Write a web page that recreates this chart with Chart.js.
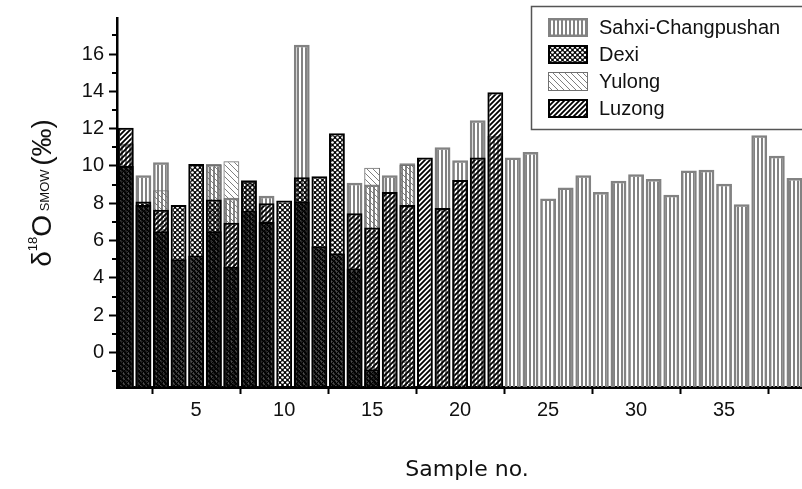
<!DOCTYPE html>
<html>
<head>
<meta charset="utf-8">
<script src="https://cdn.jsdelivr.net/npm/chart.js@4.4.1/dist/chart.umd.min.js"></script>
<style>
  html, body { margin: 0; padding: 0; background: #fff; }
  #wrap { width: 802px; height: 489px; }
</style>
</head>
<body>
<div id="wrap"><canvas id="chart"></canvas></div>
<script>
  // sample numbers along the x axis
  const sampleNo = [1, 2, 3, 4, 5, 6, 7, 8, 9, 10, 11, 12, 13, 14, 15, 16, 17, 18, 19, 20,
    21, 22, 23, 24, 25, 26, 27, 28, 29, 30, 31, 32, 33, 34, 35, 36, 37, 38, 39];

  // δ18O values per deposit (null = no sample at that position)
  const sahxi = [11.2, 9.5, 10.2, null, null, 10.1, 8.3, 9.25, 8.4, null, 16.5, null, null, 9.1, 9.0,
    9.5, 10.15, null, 11.0, 10.3, 12.45, 11.6, 10.45, 10.75, 8.25, 8.85, 9.5, 8.6, 9.2, 9.55,
    9.3, 8.45, 9.75, 9.8, 9.05, 7.95, 11.65, 10.55, 9.35];
  const dexi = [10.0, 8.1, 6.5, 7.9, 10.1, 8.2, 4.6, 9.2, 7.0, 8.15, 9.4, 9.45, 11.75, 4.5, -0.9];
  const yulong = [null, null, 8.7, null, null, 10.05, 10.25, null, null, null, null, null, null, null, 9.9,
    null, 10.05];
  const luzong = [12.05, 7.9, 7.65, 5.0, 5.2, 6.5, 6.95, 7.6, 8.0, null, 8.1, 5.7, 5.3, 7.47, 6.7,
    8.6, 7.9, 10.45, 7.75, 9.25, 10.45, 13.95];

  const yTickValues = [0, 2, 4, 6, 8, 10, 12, 14, 16];
  const yMinorTicks = [-1, 1, 3, 5, 7, 9, 11, 13, 15, 17];
  const xTickLabels = [5, 10, 15, 20, 25, 30, 35];
  const xTickMarks = [2.5, 7.5, 12.5, 17.5, 22.5, 27.5, 32.5, 37.5];

  const yMin = -1.85, yMax = 17.93;
  const xMin = 0.5, xMax = 39.43;

  const canvas = document.getElementById("chart");
  const ctx = canvas.getContext("2d");

  function makePattern(size, draw) {
    const c = document.createElement("canvas");
    c.width = size;
    c.height = size;
    draw(c.getContext("2d"), size);
    return ctx.createPattern(c, "repeat");
  }

  const grey = "#828282";

  // grey vertical stripes
  const stripePattern = makePattern(4, (g, s) => {
    g.fillStyle = grey;
    g.fillRect(1, 0, 2, s);
  });
  // black with see-through dots
  const dotPattern = makePattern(5, (g, s) => {
    g.fillStyle = "#000";
    g.fillRect(0, 0, s, s);
    g.globalCompositeOperation = "destination-out";
    [[2.5, 2.5], [0, 0], [s, 0], [0, s], [s, s]].forEach(([x, y]) => {
      g.beginPath();
      g.arc(x, y, 1.35, 0, Math.PI * 2);
      g.fill();
    });
  });
  // thin grey "\" hatch
  const backPattern = makePattern(6, (g, s) => {
    g.strokeStyle = "#707070";
    g.lineWidth = 0.9;
    g.beginPath();
    g.moveTo(-1, -1); g.lineTo(s + 1, s + 1);
    g.moveTo(-1, s - 1); g.lineTo(1, s + 1);
    g.moveTo(s - 1, -1); g.lineTo(s + 1, 1);
    g.stroke();
  });
  // thick black "/" hatch
  const fwdPattern = makePattern(5, (g, s) => {
    g.strokeStyle = "#000";
    g.lineWidth = 1.8;
    g.beginPath();
    g.moveTo(-1, s + 1); g.lineTo(s + 1, -1);
    g.moveTo(-1, 1); g.lineTo(1, -1);
    g.moveTo(s - 1, s + 1); g.lineTo(s + 1, s - 1);
    g.stroke();
  });

  function pts(values) {
    return sampleNo
      .map((x, i) => ({ x, y: values[i] ?? null }))
      .filter(p => p.y !== null);
  }

  const series = [
    { label: "Sahxi-Changpushan", values: sahxi, fill: stripePattern, border: grey, bw: 2.5, order: 3 },
    { label: "Dexi", values: dexi, fill: dotPattern, border: "#000", bw: 2, order: 0 },
    { label: "Yulong", values: yulong, fill: backPattern, border: "#707070", bw: 1, order: 2 },
    { label: "Luzong", values: luzong, fill: fwdPattern, border: "#000", bw: 2, order: 1 }
  ];

  const tickFont = { family: "'Liberation Sans', Arial, sans-serif", size: 20 };

  const decor = {
    id: "decor",
    afterDraw(chart) {
      const c = chart.ctx;
      const y = chart.scales.y;
      const area = chart.chartArea;
      c.save();

      // minor ticks on y
      c.strokeStyle = "#000";
      c.lineWidth = 2;
      yMinorTicks.forEach(v => {
        const py = Math.round(y.getPixelForValue(v));
        c.beginPath();
        c.moveTo(area.left - 5, py);
        c.lineTo(area.left, py);
        c.stroke();
      });

      // y title: δ18O SMOW (‰)
      const big = "28px 'Liberation Sans', Arial, sans-serif";
      const small = "13px 'Liberation Sans', Arial, sans-serif";
      const parts = [
        { t: "δ", f: big, dy: 0 },
        { t: "18", f: small, dy: -14 },
        { t: "O", f: big, dy: 0 },
        { t: " SMOW ", f: small, dy: -2 },
        { t: "(‰)", f: big, dy: 0 }
      ];
      let total = 0;
      parts.forEach(p => { c.font = p.f; p.w = c.measureText(p.t).width; total += p.w; });
      c.translate(51, 193);
      c.rotate(-Math.PI / 2);
      c.fillStyle = "#111";
      c.textBaseline = "alphabetic";
      let px = -total / 2;
      parts.forEach(p => {
        c.font = p.f;
        c.fillText(p.t, px, p.dy);
        px += p.w;
      });
      c.setTransform(1, 0, 0, 1, 0, 0);

      // x title
      c.font = "22px 'DejaVu Sans', sans-serif";
      c.textAlign = "center";
      c.textBaseline = "alphabetic";
      c.fillText("Sample no.", 467, 476);

      // legend box
      c.textAlign = "left";
      c.strokeStyle = "#555";
      c.lineWidth = 1.5;
      c.strokeRect(531.5, 6.5, 290, 123);
      c.font = "20px 'Liberation Sans', Arial, sans-serif";
      c.textBaseline = "middle";
      series.forEach((s, i) => {
        const top = 18 + i * 27;
        c.fillStyle = s.fill;
        c.fillRect(548, top, 40, 19);
        c.strokeStyle = s.border;
        c.lineWidth = s.bw;
        c.strokeRect(548 + s.bw / 2, top + s.bw / 2, 40 - s.bw, 19 - s.bw);
        c.fillStyle = "#111";
        c.fillText(s.label, 599, top + 10);
      });
      c.restore();
    }
  };

  new Chart(canvas, {
    type: "bar",
    data: {
      datasets: series.map(s => ({
        label: s.label,
        data: pts(s.values),
        backgroundColor: s.fill,
        borderColor: s.border,
        borderWidth: s.bw,
        order: s.order,
        base: yMin,
        grouped: false,
        barPercentage: 0.9,
        categoryPercentage: 1
      }))
    },
    options: {
      responsive: true,
      maintainAspectRatio: false,
      animation: false,
      events: [],
      layout: { padding: { top: 18, right: 0, left: 0, bottom: 0 } },
      plugins: { legend: { display: false }, tooltip: { enabled: false } },
      scales: {
        x: {
          type: "linear",
          min: xMin,
          max: xMax,
          offset: false,
          z: 1,
          afterBuildTicks: s => {
            s.ticks = xTickMarks.concat(xTickLabels).sort((a, b) => a - b).map(v => ({ value: v }));
          },
          afterFit: s => { s.height = 102; },
          ticks: {
            autoSkip: false,
            maxRotation: 0,
            padding: 4,
            color: "#111",
            font: tickFont,
            callback: v => (xTickLabels.includes(v) ? String(v) : "")
          },
          grid: {
            offset: false,
            drawOnChartArea: false,
            drawTicks: true,
            tickLength: 7,
            tickWidth: 2,
            tickColor: c => (c.tick && xTickLabels.includes(c.tick.value) ? "rgba(0,0,0,0)" : "#000")
          },
          border: { color: "#000", width: 3 }
        },
        y: {
          type: "linear",
          min: yMin,
          max: yMax,
          z: 1,
          afterBuildTicks: s => { s.ticks = yTickValues.map(v => ({ value: v })); },
          afterFit: s => { s.width = 117; },
          ticks: { padding: 5, color: "#111", font: tickFont },
          grid: { drawOnChartArea: false, tickLength: 8, tickWidth: 2, tickColor: "#000" },
          border: { color: "#000", width: 2.5 }
        }
      }
    },
    plugins: [decor]
  });
</script>
</body>
</html>
